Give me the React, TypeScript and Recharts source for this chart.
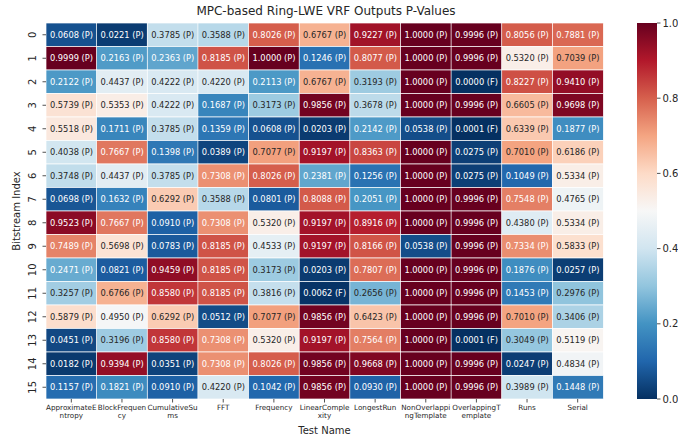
import React from "react";
import { BarChart, Bar, XAxis, YAxis, Label } from "recharts";

const TESTS = [
  "ApproximateEntropy",
  "BlockFrequency",
  "CumulativeSums",
  "FFT",
  "Frequency",
  "LinearComplexity",
  "LongestRun",
  "NonOverlappingTemplate",
  "OverlappingTemplate",
  "Runs",
  "Serial",
];

// one row per bitstream, columns follow TESTS
const P_VALUES: number[][] = [
  [0.0608, 0.0221, 0.3785, 0.3588, 0.8026, 0.6767, 0.9227, 1.0, 0.9996, 0.8056, 0.7881],
  [0.9999, 0.2163, 0.2363, 0.8185, 1.0, 0.1246, 0.8077, 1.0, 0.9996, 0.532, 0.7039],
  [0.2122, 0.4437, 0.4222, 0.422, 0.2113, 0.6767, 0.3193, 1.0, 0.0, 0.8227, 0.941],
  [0.5739, 0.5353, 0.4222, 0.1687, 0.3173, 0.9856, 0.3678, 1.0, 0.9996, 0.6605, 0.9698],
  [0.5518, 0.1711, 0.3785, 0.1359, 0.0608, 0.0203, 0.2142, 0.0538, 0.0001, 0.6339, 0.1877],
  [0.4038, 0.7667, 0.1398, 0.0389, 0.7077, 0.9197, 0.8363, 1.0, 0.0275, 0.701, 0.6186],
  [0.3748, 0.4437, 0.3785, 0.7308, 0.8026, 0.2381, 0.1256, 1.0, 0.0275, 0.1049, 0.5334],
  [0.0698, 0.1632, 0.6292, 0.3588, 0.0801, 0.8088, 0.2051, 1.0, 0.9996, 0.7548, 0.4765],
  [0.9523, 0.7667, 0.091, 0.7308, 0.532, 0.9197, 0.8916, 1.0, 0.9996, 0.438, 0.5334],
  [0.7489, 0.5698, 0.0783, 0.8185, 0.4533, 0.9197, 0.8166, 0.0538, 0.9996, 0.7334, 0.5833],
  [0.2471, 0.0821, 0.9459, 0.8185, 0.3173, 0.0203, 0.7807, 1.0, 0.9996, 0.1876, 0.0257],
  [0.3257, 0.6766, 0.858, 0.8185, 0.3816, 0.0062, 0.2656, 1.0, 0.9996, 0.1453, 0.2976],
  [0.5879, 0.495, 0.6292, 0.0512, 0.7077, 0.9856, 0.6423, 1.0, 0.9996, 0.701, 0.3406],
  [0.0451, 0.3196, 0.858, 0.7308, 0.532, 0.9197, 0.7564, 1.0, 0.0001, 0.3049, 0.5119],
  [0.0182, 0.9394, 0.0351, 0.7308, 0.8026, 0.9856, 0.9668, 1.0, 0.9996, 0.0247, 0.4834],
  [0.1157, 0.1821, 0.091, 0.422, 0.1042, 0.9856, 0.093, 1.0, 0.9996, 0.3989, 0.1448],
];

const ALPHA = 0.01;
const CBAR_TICKS = [0, 0.2, 0.4, 0.6, 0.8, 1.0];

// RdBu_r
const STOPS = [
  "#053061", "#2166ac", "#4393c3", "#92c5de", "#d1e5f0", "#f7f7f7",
  "#fddbc7", "#f4a582", "#d6604d", "#b2182b", "#67001f",
];

const FONT = "DejaVu Sans, sans-serif";

const hex = (h: string) => [1, 3, 5].map((i) => parseInt(h.slice(i, i + 2), 16));

function rgbFor(v: number) {
  const t = Math.max(0, Math.min(1, v)) * (STOPS.length - 1);
  const i = Math.min(Math.floor(t), STOPS.length - 2);
  const f = t - i;
  const a = hex(STOPS[i]);
  const b = hex(STOPS[i + 1]);
  return a.map((c, k) => Math.round(c + (b[k] - c) * f));
}

function textColor(rgb: number[]) {
  const lin = rgb.map((c) => {
    const s = c / 255;
    return s <= 0.03928 ? s / 12.92 : Math.pow((s + 0.055) / 1.055, 2.4);
  });
  const lum = 0.2126 * lin[0] + 0.7152 * lin[1] + 0.0722 * lin[2];
  return lum > 0.408 ? "#262626" : "#ffffff";
}

const data = TESTS.map((name, c) => {
  const row: Record<string, any> = { name };
  P_VALUES.forEach((vals, r) => {
    row[`r${r}`] = 1;
    row[`v${r}`] = vals[c];
  });
  return row;
});

const rowTicks = P_VALUES.map((_, r) => r + 0.5);

const makeCell = (r: number) => (props: any) => {
  const { x, y, width, height, payload } = props;
  const v = payload[`v${r}`];
  const rgb = rgbFor(v);
  const top = Math.min(y, y + height);
  const h = Math.abs(height);
  const label = `${v.toFixed(4)} (${v < ALPHA ? "F" : "P"})`;
  return (
    <g>
      <rect
        x={x}
        y={top}
        width={width}
        height={h}
        fill={`rgb(${rgb.join(",")})`}
        stroke="#ffffff"
        strokeWidth={0.7}
      />
      <text
        x={x + width / 2}
        y={top + h / 2}
        dy="0.35em"
        textAnchor="middle"
        fontSize={8.3}
        fontFamily={FONT}
        fill={textColor(rgb)}
      >
        {label}
      </text>
    </g>
  );
};

const wrap = (s: string, n: number) => {
  const out: string[] = [];
  for (let i = 0; i < s.length; i += n) out.push(s.slice(i, i + n));
  return out;
};

const XTick = (props: any) => {
  const { x, y, payload } = props;
  return (
    <text x={x} y={y} textAnchor="middle" fontSize={7.2} fontFamily={FONT} fill="#262626">
      {wrap(payload.value, 12).map((line, i) => (
        <tspan key={i} x={x} dy={i === 0 ? "0.75em" : "1.15em"}>
          {line}
        </tspan>
      ))}
    </text>
  );
};

const YTick = (props: any) => {
  const { x, y, payload } = props;
  const tx = x - 5;
  return (
    <text
      x={tx}
      y={y}
      transform={`rotate(-90 ${tx} ${y})`}
      textAnchor="middle"
      fontSize={10}
      fontFamily={FONT}
      fill="#262626"
    >
      {Math.floor(payload.value)}
    </text>
  );
};

export default function App() {
  return (
    <div
      style={{
        position: "absolute",
        left: 0,
        top: 0,
        width: 678,
        height: 437,
        background: "#fff",
        overflow: "hidden",
        fontFamily: FONT,
      }}
    >
      <div
        style={{
          position: "absolute",
          left: 0,
          top: 4,
          width: 652,
          textAlign: "center",
          fontSize: 12,
          color: "#262626",
        }}
      >
        MPC-based Ring-LWE VRF Outputs P-Values
      </div>
      <BarChart
        width={678}
        height={437}
        data={data}
        margin={{ top: 23, right: 75, bottom: 0, left: 0 }}
        barCategoryGap={0}
        barGap={0}
        style={{ position: "absolute", left: 0, top: 0 }}
      >
        <XAxis
          dataKey="name"
          type="category"
          interval={0}
          axisLine={false}
          tickLine={{ stroke: "#262626", strokeWidth: 0.8 }}
          tickSize={3.5}
          tick={<XTick />}
          height={38}
        >
          <Label
            value="Test Name"
            position="insideBottom"
            offset={3}
            style={{ fontSize: 10, fontFamily: FONT, fill: "#262626" }}
          />
        </XAxis>
        <YAxis
          type="number"
          domain={[0, P_VALUES.length]}
          reversed
          ticks={rowTicks}
          interval={0}
          axisLine={false}
          tickLine={{ stroke: "#262626", strokeWidth: 0.8 }}
          tickSize={3.5}
          tick={<YTick />}
          width={46}
        >
          <Label
            value="Bitstream Index"
            angle={-90}
            position="insideLeft"
            offset={16}
            style={{ fontSize: 10, fontFamily: FONT, fill: "#262626", textAnchor: "middle" }}
          />
        </YAxis>
        {P_VALUES.map((_, r) => (
          <Bar
            key={r}
            dataKey={`r${r}`}
            stackId="cells"
            isAnimationActive={false}
            shape={makeCell(r)}
          />
        ))}
      </BarChart>
      <BarChart
        width={60}
        height={437}
        data={[{ name: "cbar", v: 1 }]}
        margin={{ top: 23, right: 0, bottom: 38, left: 0 }}
        barCategoryGap={0}
        style={{ position: "absolute", left: 637, top: 0 }}
      >
        <defs>
          <linearGradient id="cbar" x1="0" y1="1" x2="0" y2="0">
            {STOPS.map((c, i) => (
              <stop key={i} offset={i / (STOPS.length - 1)} stopColor={c} />
            ))}
          </linearGradient>
        </defs>
        <XAxis dataKey="name" hide />
        <YAxis
          type="number"
          orientation="right"
          domain={[0, 1]}
          ticks={CBAR_TICKS}
          interval={0}
          axisLine={false}
          tickLine={{ stroke: "#262626", strokeWidth: 0.8 }}
          tickSize={3.5}
          tickMargin={2}
          tickFormatter={(t: number) => t.toFixed(1)}
          tick={{ fontSize: 10, fontFamily: FONT, fill: "#262626" }}
          width={40}
        />
        <Bar dataKey="v" fill="url(#cbar)" isAnimationActive={false} />
      </BarChart>
    </div>
  );
}
